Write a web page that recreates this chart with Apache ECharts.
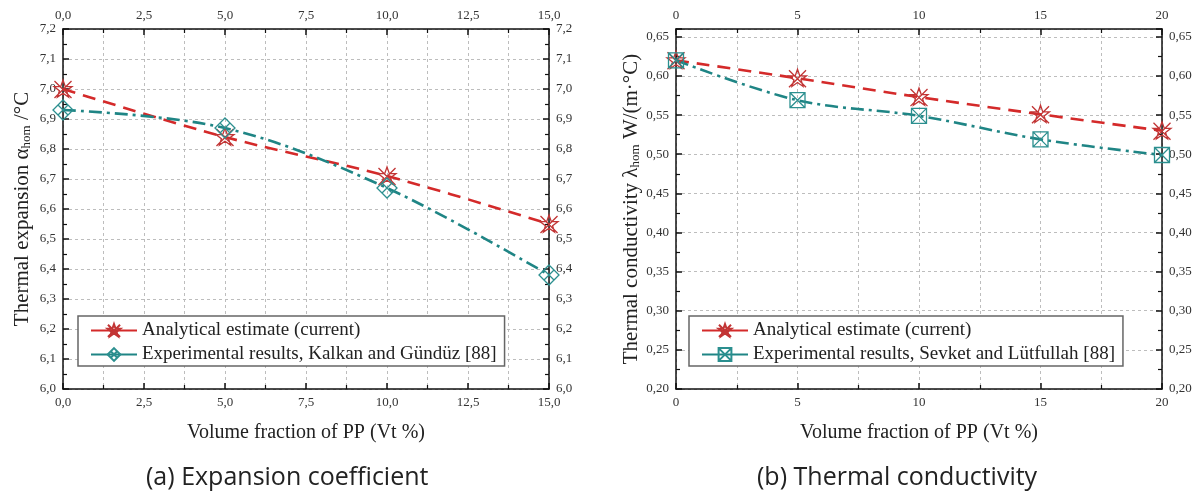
<!DOCTYPE html>
<html>
<head>
<meta charset="utf-8">
<script src="https://cdn.jsdelivr.net/npm/echarts@6/dist/echarts.min.js"></script>
<style>html,body{margin:0;padding:0;background:#fff}#c{width:1201px;height:497px}</style>
</head>
<body>
<div id="c"></div>
<script>
// Data
const xLeft = [0, 5, 10, 15];
const analyticalA = [7.00, 6.84, 6.71, 6.55];
const experimentalA = [6.93, 6.87, 6.67, 6.38];
const xRight = [0, 5, 10, 15, 20];
const analyticalB = [0.620, 0.597, 0.573, 0.551, 0.530];
const experimentalB = [0.620, 0.569, 0.549, 0.519, 0.499];
const nameAnalytical = 'Analytical estimate (current)';
const nameExpA = 'Experimental results, Kalkan and Gündüz [88]';
const nameExpB = 'Experimental results, Sevket and Lütfullah [88]';

const RED = '#d42a2a', REDM = '#c23535', TEAL = '#1f8585', TEALM = '#2b8f8f';
const SERIF = 'Liberation Serif';
const fmt1 = v => v.toFixed(1).replace('.', ',');
const fmt2 = v => v.toFixed(2).replace('.', ',');
const fmt0 = v => String(v);

const grid = { color: '#bdbdbd', type: [3, 3], width: 1 };

function xAx(gi, pos, min, max, interval, fmt, name) {
  return {
    type: 'value', gridIndex: gi, position: pos, min, max, interval,
    name: name || '', nameLocation: 'middle', nameGap: 34,
    nameTextStyle: { fontFamily: SERIF, fontSize: 20, color: '#222' },
    axisLine: { show: true, onZero: false, lineStyle: { color: '#111', width: 1.5 } },
    axisTick: { show: true, inside: true, length: 6, lineStyle: { color: '#111', width: 1.5 } },
    minorTick: { show: true, splitNumber: 2, length: 4, lineStyle: { color: '#111', width: 1.2 } },
    axisLabel: { show: true, formatter: fmt, fontFamily: SERIF, fontSize: 13, color: '#333', margin: 7 },
    splitLine: { show: pos === 'bottom', lineStyle: grid },
    minorSplitLine: { show: pos === 'bottom', lineStyle: grid }
  };
}
function yAx(gi, pos, min, max, interval, fmt, nameRich) {
  return {
    type: 'value', gridIndex: gi, position: pos, min, max, interval,
    name: nameRich || '', nameLocation: 'middle', nameGap: 30,
    nameTextStyle: {
      fontFamily: SERIF, fontSize: 21, color: '#222',
      rich: { s: { fontFamily: SERIF, fontSize: 13, color: '#222', lineHeight: 6, verticalAlign: 'bottom' } }
    },
    axisLine: { show: true, onZero: false, lineStyle: { color: '#111', width: 1.5 } },
    axisTick: { show: true, inside: true, length: 6, lineStyle: { color: '#111', width: 1.5 } },
    minorTick: { show: true, splitNumber: 2, length: 4, lineStyle: { color: '#111', width: 1.2 } },
    axisLabel: { show: true, formatter: fmt, fontFamily: SERIF, fontSize: 13, color: '#333', margin: 7, showMaxLabel: max === 0.66 ? false : true },
    splitLine: { show: pos === 'left', lineStyle: grid }
  };
}

const symRed = 'path://M10,0 L12.35,6.76 L19.51,6.91 L13.8,11.24 L15.88,18.09 L10,14 L4.12,18.09 L6.2,11.24 L0.49,6.91 L7.65,6.76 Z M1,1 L19,19 M19,1 L1,19';
const symDiamond = 'path://M10,0 L20,10 L10,20 L0,10 Z M5,5 L15,15 M15,5 L5,15';
const symSquare = 'path://M0,0 L20,0 L20,20 L0,20 Z M0,0 L20,20 M20,0 L0,20';

function pairs(xs, ys) { return xs.map((x, i) => [x, ys[i]]); }

function ser(name, xi, yi, data, color, mcolor, dash, sym, size) {
  return {
    type: 'line', name, xAxisIndex: xi, yAxisIndex: yi, data,
    smooth: 0.35, symbol: sym, symbolSize: size,
    lineStyle: { color, width: 2.6, type: dash },
    itemStyle: { color: 'rgba(255,255,255,0)', borderColor: mcolor, borderWidth: 1.3 },
    emphasis: { disabled: true }, z: 3
  };
}

function legend(names, left) {
  return {
    data: names, left, top: 316, orient: 'vertical',
    itemWidth: 46, itemHeight: 16, itemGap: 5, padding: [5, 8, 2, 12],
    backgroundColor: '#fff', borderColor: '#666', borderWidth: 1.5,
    lineStyle: { type: 'solid' },
    textStyle: { fontFamily: SERIF, fontSize: 19, color: '#222' }, selectedMode: false
  };
}

const chart = echarts.init(document.getElementById('c'), null, { renderer: 'canvas' });
chart.setOption({
  animation: false,
  backgroundColor: '#fff',
  grid: [
    { left: 63, top: 29, width: 486, height: 360, containLabel: false },
    { left: 676, top: 29, width: 486, height: 360, containLabel: false }
  ],
  xAxis: [
    xAx(0, 'bottom', 0, 15, 2.5, fmt1, 'Volume fraction of PP (Vt %)'),
    xAx(0, 'top', 0, 15, 2.5, fmt1),
    xAx(1, 'bottom', 0, 20, 5, fmt0, 'Volume fraction of PP (Vt %)'),
    xAx(1, 'top', 0, 20, 5, fmt0)
  ],
  yAxis: [
    yAx(0, 'left', 6.0, 7.2, 0.1, fmt1, 'Thermal expansion α{s|hom} /°C'),
    yAx(0, 'right', 6.0, 7.2, 0.1, fmt1),
    yAx(1, 'left', 0.20, 0.66, 0.05, fmt2, 'Thermal conductivity λ{s|hom} W/(m·°C)'),
    yAx(1, 'right', 0.20, 0.66, 0.05, fmt2)
  ],
  legend: [legend([nameAnalytical, nameExpA], 78), legend([nameAnalytical, nameExpB], 689)],
  series: [
    ser(nameAnalytical, 0, 0, pairs(xLeft, analyticalA), RED, REDM, [13, 8], symRed, 18),
    ser(nameExpA, 0, 0, pairs(xLeft, experimentalA), TEAL, TEALM, [13, 5, 3, 5], symDiamond, 20),
    ser(nameAnalytical, 2, 2, pairs(xRight, analyticalB), RED, REDM, [13, 8], symRed, 18),
    ser(nameExpB, 2, 2, pairs(xRight, experimentalB), TEAL, TEALM, [13, 5, 3, 5], symSquare, 15)
  ],
  graphic: [
    { type: 'text', left: 146, top: 465, style: { text: '(a) Expansion coefficient', font: '25px "Open Sans"', fill: '#222' } },
    { type: 'text', left: 757, top: 465, style: { text: '(b) Thermal conductivity', font: '25px "Open Sans"', fill: '#222' } }
  ]
});
</script>
</body>
</html>
